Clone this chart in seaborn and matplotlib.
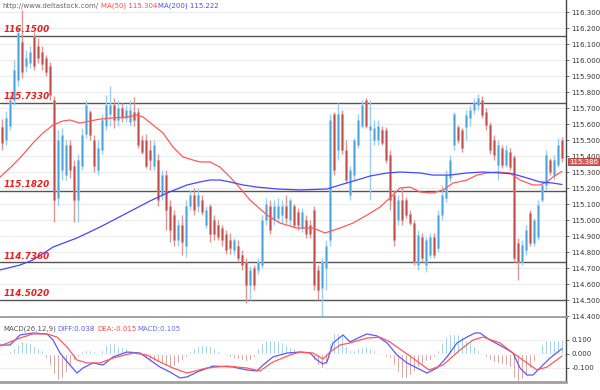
import matplotlib
matplotlib.use("Agg")
import matplotlib.pyplot as plt
import seaborn as sns

# candles, one per bar, oldest first
opens = [115.58, 115.50, 115.59, 115.75, 115.875, 116.11, 115.96, 115.98, 116.15, 116.09,
         116.05, 116.01, 115.96, 115.75, 115.14, 115.31, 115.28, 115.47, 115.34, 115.125,
         115.34, 115.54, 115.675, 115.50, 115.31, 115.44, 115.59, 115.66, 115.72, 115.625,
         115.70, 115.64, 115.61, 115.675, 115.675, 115.50, 115.50, 115.44, 115.34, 115.375,
         115.155, 115.28, 115.09, 115.03, 114.875, 114.97, 114.84, 115.09, 115.155, 115.09,
         115.125, 114.97, 115.09, 115.0, 114.97, 114.95, 114.91, 114.875, 114.81, 114.84,
         114.78, 114.74, 114.595, 114.70, 114.69, 114.72, 115.0, 115.09, 115.0, 115.01,
         115.03, 115.09, 115.0, 115.09, 115.05, 114.95, 115.0, 114.97, 115.06, 114.69,
         114.575, 114.70, 114.875, 115.66, 115.44, 115.66, 115.44, 115.155, 115.28, 115.47,
         115.59, 115.75, 115.56, 115.50, 115.50, 115.56, 115.56, 115.405, 115.155, 115.0,
         115.125, 115.125, 115.04, 114.98, 114.72, 114.895, 114.72, 114.78, 114.895, 114.825,
         115.03, 115.14, 115.26, 115.47, 115.58, 115.56, 115.58, 115.64, 115.69, 115.72,
         115.75, 115.675, 115.595, 115.50, 115.345, 115.45, 115.345, 115.425, 115.395, 114.855,
         114.74, 114.81, 115.045, 114.855, 114.895, 115.125, 115.22, 115.375, 115.28, 115.345,
         115.50]
highs = [115.63, 115.68, 115.78, 116.00, 116.20, 116.31, 116.06, 116.09, 116.175, 116.14,
         116.09, 116.03, 115.99, 115.775, 115.56, 115.575, 115.50, 115.50, 115.375, 115.41,
         115.575, 115.75, 115.69, 115.53, 115.50, 115.66, 115.78, 115.84, 115.76, 115.75,
         115.73, 115.72, 115.75, 115.77, 115.70, 115.53, 115.54, 115.50, 115.50, 115.41,
         115.31, 115.31, 115.125, 115.06, 115.0, 115.03, 115.125, 115.19, 115.20, 115.20,
         115.155, 115.09, 115.10, 115.03, 115.0, 114.97, 114.94, 114.92, 114.89, 114.875,
         114.81, 114.765, 114.71, 114.72, 114.76, 115.03, 115.14, 115.125, 115.125, 115.14,
         115.125, 115.155, 115.14, 115.10, 115.075, 115.075, 115.03, 115.0, 115.09, 114.72,
         114.765, 114.875, 115.66, 115.675, 115.73, 115.69, 115.50, 115.34, 115.51, 115.66,
         115.75, 115.76, 115.75, 115.625, 115.625, 115.59, 115.58, 115.44, 115.19, 115.155,
         115.205, 115.145, 115.06, 115.0, 114.94, 114.92, 114.895, 114.92, 114.92, 115.06,
         115.22, 115.31, 115.405, 115.675, 115.595, 115.575, 115.69, 115.72, 115.76, 115.79,
         115.775, 115.70, 115.61, 115.53, 115.50, 115.47, 115.47, 115.45, 115.405, 114.89,
         114.875, 114.97, 115.06, 115.01, 115.125, 115.25, 115.44, 115.39, 115.405, 115.51,
         115.52]
lows = [115.44, 115.47, 115.56, 115.72, 115.84, 115.89, 115.925, 115.95, 115.94, 115.98,
        115.94, 115.90, 115.75, 114.99, 115.09, 115.25, 115.25, 115.26, 114.99, 114.99,
        115.31, 115.51, 115.50, 115.30, 115.28, 115.41, 115.56, 115.59, 115.575, 115.59,
        115.61, 115.61, 115.59, 115.59, 115.45, 115.41, 115.325, 115.31, 115.31, 115.09,
        115.125, 114.94, 114.86, 114.84, 114.84, 114.78, 114.77, 115.06, 115.03, 115.05,
        115.03, 114.95, 114.86, 114.875, 114.875, 114.84, 114.79, 114.79, 114.78, 114.74,
        114.69, 114.48, 114.50, 114.56, 114.66, 114.70, 114.97, 114.91, 114.97, 114.99,
        114.98, 114.98, 114.97, 114.95, 114.94, 114.925, 114.89, 114.89, 114.56, 114.50,
        114.39, 114.56, 114.84, 115.28, 115.375, 115.41, 115.23, 115.125, 115.25, 115.45,
        115.575, 115.575, 115.125, 115.47, 115.47, 115.47, 115.355, 115.06, 114.84, 114.97,
        114.97, 115.01, 114.97, 114.72, 114.69, 114.74, 114.675, 114.76, 114.76, 114.80,
        115.0, 115.11, 115.24, 115.44, 115.48, 115.425, 115.50, 115.59, 115.66, 115.69,
        115.64, 115.56, 115.41, 115.375, 115.25, 115.325, 115.33, 115.31, 114.74, 114.625,
        114.72, 114.78, 114.84, 114.84, 114.875, 115.11, 115.19, 115.28, 115.25, 115.33,
        115.36]
closes = [115.48, 115.64, 115.75, 115.94, 116.17, 115.925, 116.01, 116.05, 115.96, 116.01,
          115.975, 115.925, 115.78, 115.125, 115.50, 115.53, 115.47, 115.31, 115.125, 115.375,
          115.53, 115.72, 115.53, 115.34, 115.45, 115.625, 115.72, 115.72, 115.625, 115.70,
          115.64, 115.69, 115.69, 115.625, 115.47, 115.425, 115.34, 115.375, 115.47, 115.125,
          115.28, 115.06, 114.94, 114.875, 114.97, 114.86, 115.09, 115.155, 115.06, 115.155,
          115.05, 115.06, 114.91, 114.91, 114.895, 114.875, 114.81, 114.825, 114.875, 114.76,
          114.72, 114.595, 114.69, 114.595, 114.74, 115.0, 115.10, 114.94, 115.09, 115.09,
          115.09, 115.01, 115.125, 114.97, 114.97, 115.05, 114.91, 114.91, 114.595, 114.56,
          114.74, 114.84, 115.625, 115.31, 115.66, 115.44, 115.25, 115.31, 115.50, 115.625,
          115.72, 115.59, 115.59, 115.575, 115.59, 115.48, 115.375, 115.125, 114.875, 115.125,
          115.0, 115.03, 114.98, 114.74, 114.905, 114.76, 114.875, 114.895, 114.78, 115.03,
          115.155, 115.28, 115.375, 115.66, 115.50, 115.45, 115.655, 115.69, 115.74, 115.76,
          115.655, 115.595, 115.44, 115.405, 115.47, 115.345, 115.44, 115.33, 114.76, 114.74,
          114.845, 114.935, 114.855, 115.0, 115.095, 115.22, 115.405, 115.30, 115.375, 115.47,
          115.386]

# moving averages (bar position, value)
ma50_idx = [-0.5, 2, 4.5, 7.75, 10.25, 12.75, 15.25, 17, 19.5, 22, 24.5, 27.75, 31.25, 33.75,
            35.25, 37.75, 40.25, 42.75, 45.25, 47.75, 49.5, 52, 54.5, 57, 59.5, 62, 66.25, 69.5,
            73.75, 77.75, 80.75, 84.5, 87.75, 91.25, 94.5, 97, 99.5, 102, 104.5, 107.75, 110.25,
            112.75, 116.25, 118.75, 121.25, 123.75, 127, 129.5, 132.75, 134.5, 136.25, 137.75, 140]
ma50_val = [115.269, 115.325, 115.388, 115.481, 115.544, 115.594, 115.619, 115.625, 115.606,
            115.619, 115.631, 115.638, 115.644, 115.656, 115.644, 115.594, 115.544, 115.456,
            115.394, 115.375, 115.363, 115.363, 115.331, 115.269, 115.2, 115.125, 115.031,
            114.981, 114.95, 114.95, 114.919, 114.95, 114.981, 115.031, 115.081, 115.138,
            115.2, 115.206, 115.175, 115.169, 115.188, 115.231, 115.25, 115.281, 115.294,
            115.3, 115.294, 115.25, 115.219, 115.219, 115.238, 115.269, 115.304]
ma200_idx = [-0.5, 4.5, 7.75, 12.75, 18.75, 24.5, 31.25, 37, 41.25, 46.25, 49.5, 52, 54.5, 57,
             60.25, 63.75, 68.75, 74.5, 81.25, 84.5, 88.75, 92, 96.25, 99.5, 104.5, 107.75, 112,
             116.25, 120.25, 124.5, 127.75, 131.25, 134.5, 137.75, 140]
ma200_val = [114.688, 114.719, 114.75, 114.831, 114.888, 114.956, 115.044, 115.119, 115.169,
             115.219, 115.238, 115.25, 115.25, 115.238, 115.219, 115.206, 115.194, 115.188,
             115.194, 115.219, 115.25, 115.275, 115.294, 115.3, 115.294, 115.281, 115.281,
             115.294, 115.3, 115.294, 115.288, 115.263, 115.238, 115.231, 115.222]

levels = [116.15, 115.733, 115.182, 114.736, 114.502]
level_labels = ["116.1500", "115.7330", "115.1820", "114.7360", "114.5020"]

price_ticks = [114.4 + 0.1 * k for k in range(20)]
price_labels = ["%.3f" % t for t in price_ticks]
last_price = 115.386

# MACD(26,12,9)
diff_idx = [-0.5, 2, 4.5, 7.75, 11.25, 12.75, 14.5, 17, 18.75, 20.25, 22.75, 25.25, 27.75,
            31.25, 34.5, 37, 39.5, 42, 44.5, 46.25, 48.75, 52.75, 57.75, 61.25, 63.75, 65.25,
            67.75, 71.25, 74.5, 77, 78.75, 80.25, 81.25, 82.75, 85.25, 87, 89.5, 91.25, 93.75,
            96.25, 98.75, 101.25, 103.75, 106.25, 108.75, 111.25, 113.75, 116.25, 118.25,
            119.5, 122, 125.25, 127.75, 129.5, 131.25, 132.75, 134.5, 137, 140]
diff_val = [0.064, 0.064, 0.136, 0.15, 0.143, 0.1, 0.007, -0.079, -0.136, -0.1, -0.064, -0.079,
            -0.021, 0.014, 0.007, -0.043, -0.093, -0.129, -0.171, -0.164, -0.129, -0.086,
            -0.093, -0.114, -0.121, -0.079, -0.021, 0.007, 0.014, 0.007, -0.043, -0.071, -0.057,
            0.079, 0.136, 0.086, 0.121, 0.143, 0.129, 0.079, -0.007, -0.064, -0.1, -0.136, -0.1,
            -0.021, 0.079, 0.121, 0.15, 0.15, 0.1, 0.05, 0.007, -0.1, -0.15, -0.15, -0.1,
            -0.029, 0.038]
dea_idx = [-0.5, 4.5, 7.75, 11.25, 13.75, 16.25, 18.75, 21.25, 24.5, 27.75, 32.75, 36.25, 39.5,
           42.75, 46.25, 51.25, 56.25, 61.25, 64.5, 67.75, 72, 74.5, 77.75, 80.25, 82, 84.5, 87,
           91.25, 94.5, 97, 99.5, 102.75, 106.75, 110.25, 114.5, 117.75, 120.25, 124.5, 127.75,
           131.25, 133.75, 136.25, 140]
dea_val = [0.057, 0.114, 0.143, 0.143, 0.121, 0.05, -0.043, -0.064, -0.064, -0.029, 0.007,
           -0.007, -0.057, -0.1, -0.136, -0.1, -0.086, -0.1, -0.121, -0.057, -0.007, 0.014,
           0.007, -0.036, 0.014, 0.064, 0.079, 0.114, 0.12, 0.086, 0.035, -0.03, -0.114, -0.079,
           0.029, 0.1, 0.121, 0.079, 0.007, -0.064, -0.114, -0.093, -0.015]
hist = [-0.01, -0.01, 0.02, 0.04, 0.07, 0.09, 0.085, 0.075, 0.06, 0.045,
        0.03, -0.03, -0.08, -0.14, -0.185, -0.17, -0.13, -0.08, -0.04, -0.02,
        0.02, 0.03, 0.03, 0.02, -0.01, 0.03, 0.065, 0.08, 0.075, 0.06,
        0.05, 0.04, 0.02, 0.01, 0.005, -0.01, -0.03, -0.04, -0.05, -0.06,
        -0.07, -0.08, -0.09, -0.085, -0.065, -0.04, -0.02, 0.02, 0.04, 0.06,
        0.065, 0.065, 0.055, 0.04, 0.02, -0.005, -0.015, -0.02, -0.03, -0.035,
        -0.045, -0.05, -0.04, -0.025, 0.04, 0.08, 0.1, 0.1, 0.1, 0.095,
        0.085, 0.065, 0.05, 0.04, 0.03, 0.02, 0.01, -0.01, -0.04, -0.08,
        -0.10, -0.07, 0.08, 0.15, 0.15, 0.14, 0.06, 0.03, 0.03, 0.04,
        0.05, 0.055, 0.045, 0.03, 0.01, -0.01, -0.02, -0.03, -0.08, -0.13,
        -0.17, -0.17, -0.15, -0.12, -0.09, -0.075, -0.05, -0.04, -0.02, 0.03,
        0.08, 0.12, 0.145, 0.145, 0.145, 0.13, 0.1, 0.08, 0.06, 0.03,
        -0.01, -0.02, -0.04, -0.055, -0.065, -0.07, -0.08, -0.09, -0.17, -0.195,
        -0.18, -0.14, -0.1, -0.05, -0.01, 0.07, 0.1, 0.1, 0.1, 0.1,
        0.105]
macd_ticks = [0.1, 0.0, -0.1]
macd_labels = ["0.100", "0.000", "-0.100"]

sns.set_style("white")
plt.rcParams['font.family'] = ['DejaVu Sans']

BLUE, BLUE_W = '#49a5dc', '#9acdee'
RED, RED_W = '#c24c4a', '#da9694'

fig = plt.figure(figsize=(6, 3.9), dpi=100)
ax = fig.add_axes([0, 1 - 317 / 390, 566 / 600, 317 / 390])
axm = fig.add_axes([0, 1 - 382 / 390, 566 / 600, 64 / 390])

# ---- price panel
n = len(closes)
xs = list(range(n))
up = [c >= o for o, c in zip(opens, closes)]
body_col = [BLUE if u else RED for u in up]
wick_col = [BLUE_W if u else RED_W for u in up]
ax.vlines(xs, lows, highs, colors=wick_col, lw=1.0, zorder=2)
ax.bar(xs, [max(abs(c - o), 0.004) for o, c in zip(opens, closes)],
       bottom=[min(o, c) for o, c in zip(opens, closes)],
       width=0.62, color=body_col, edgecolor=wick_col, linewidth=0.4, zorder=3)

sns.lineplot(x=ma50_idx, y=ma50_val, ax=ax, color='#ff5a5a', lw=0.9,
             sort=False, estimator=None, zorder=4)
sns.lineplot(x=ma200_idx, y=ma200_val, ax=ax, color='#4646ff', lw=0.9,
             sort=False, estimator=None, zorder=4)

for lv, lab in zip(levels, level_labels):
    ax.axhline(lv, color='#555555', lw=1.0, zorder=1)
    ax.annotate(lab, xy=(0.006, lv), xycoords=ax.get_yaxis_transform(),
                xytext=(0, 1.2), textcoords='offset points', ha='left', va='bottom',
                color='#ee1d1d', fontsize=6.3, fontweight='bold', fontstyle='italic', zorder=6)

ax.set_xlim(-0.5, 141)
ax.set_ylim(114.394, 116.375)
ax.set_yticks(price_ticks)
ax.set_yticklabels(price_labels)
ax.yaxis.tick_right()
ax.set_xticks([])
ax.grid(axis='y', color='#ececec', lw=0.8, zorder=0)
ax.tick_params(axis='y', direction='out', length=2.5, width=0.6, color='#555555',
               labelsize=5, labelcolor='#333333', pad=1.5)
for s in ['top', 'left']:
    ax.spines[s].set_visible(False)
ax.spines['right'].set_color('#444444')
ax.spines['right'].set_linewidth(1.0)
ax.spines['bottom'].set_color('#a0a0a0')
ax.spines['bottom'].set_linewidth(2.0)

# header line
hy = 1 - 6 / 317
ax.text(2 / 566, hy, "http://www.deltastock.com/", transform=ax.transAxes,
        fontsize=5, color='#666666', va='center')
ax.text(101 / 566, hy, "MA(50) 115.304", transform=ax.transAxes,
        fontsize=5, color='#ff4a4a', va='center')
ax.text(158 / 566, hy, "MA(200) 115.222", transform=ax.transAxes,
        fontsize=5, color='#4a4aff', va='center')

# last price tag, sits just under the 115.400 label
ax.text(1.005, last_price - 0.022, "%.3f" % last_price, transform=ax.get_yaxis_transform(),
        fontsize=5, color='white', ha='left', va='center', clip_on=False, zorder=10,
        bbox=dict(boxstyle='square,pad=0.1', fc='#d6605a', ec='#b03c36', lw=0.6))

# ---- MACD panel
axm.bar(xs, hist, width=0.4, color=['#6fb9e2' if h > 0 else '#c86f6d' for h in hist],
        zorder=2)
sns.lineplot(x=diff_idx, y=diff_val, ax=axm, color='#5a5aff', lw=0.9,
             sort=False, estimator=None, zorder=3)
sns.lineplot(x=dea_idx, y=dea_val, ax=axm, color='#ff5a5a', lw=0.9,
             sort=False, estimator=None, zorder=3)
axm.set_xlim(-0.5, 141)
axm.set_ylim(-0.2, 0.257)
axm.set_yticks(macd_ticks)
axm.set_yticklabels(macd_labels)
axm.yaxis.tick_right()
axm.set_xticks([])
axm.grid(axis='y', color='#ececec', lw=0.8, zorder=0)
axm.tick_params(axis='y', direction='out', length=2.5, width=0.6, color='#555555',
                labelsize=5, labelcolor='#333333', pad=1.5)
for s in ['top', 'left']:
    axm.spines[s].set_visible(False)
axm.spines['right'].set_color('#444444')
axm.spines['right'].set_linewidth(1.0)
axm.spines['bottom'].set_color('#a0a0a0')
axm.spines['bottom'].set_linewidth(2.0)

my = 1 - 11 / 64
axm.text(3 / 566, my, "MACD(26,12,9)", transform=axm.transAxes, fontsize=5,
         color='#555555', va='center')
axm.text(57 / 566, my, "DIFF:0.038", transform=axm.transAxes, fontsize=5,
         color='#5a5aff', va='center')
axm.text(97 / 566, my, "DEA:-0.015", transform=axm.transAxes, fontsize=5,
         color='#ff4a4a', va='center')
axm.text(137 / 566, my, "MACD:0.105", transform=axm.transAxes, fontsize=5,
         color='#6a6aee', va='center')

fig.savefig("out.png", dpi=100)
